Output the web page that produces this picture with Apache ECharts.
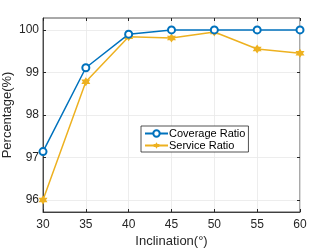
<!DOCTYPE html>
<html><head><meta charset="utf-8">
<script src="https://cdn.jsdelivr.net/npm/echarts@6/dist/echarts.min.js"></script>
<style>html,body{margin:0;padding:0;background:#fff}#c{width:332px;height:249px}</style>
</head><body><div id="c"></div>
<script>
const categories = [30, 35, 40, 45, 50, 55, 60];
const coverageRatio = [97.14, 99.11, 99.90, 100, 100, 100, 100];
const serviceRatio = [96.0, 98.78, 99.84, 99.81, 99.95, 99.55, 99.45];
const xTicks = [30, 35, 40, 45, 50, 55, 60];
const yTicks = [96, 97, 98, 99, 100];

const font = 'Liberation Sans, Arial, sans-serif';
const axisCol = '#262626';
const star = 'path://M0,-10 L2.9,-5 L8.66,-5 L5.8,0 L8.66,5 L2.9,5 L0,10 L-2.9,5 L-8.66,5 L-5.8,0 L-8.66,-5 L-2.9,-5 Z';
const chart = echarts.init(document.getElementById('c'));
const ymin = 95.72, ymax = 100.28;
chart.setOption({
  animation: false,
  grid: {left: 43, right: 32, top: 18, bottom: 37, show: true, borderColor: axisCol, borderWidth: 0.8, backgroundColor: '#fff', outerBoundsMode: 'none', containLabel: false},
  legend: {
    orient: 'vertical', left: 141, top: 126, padding: [2, 3, 1, 3], itemGap: 1,
    borderColor: axisCol, borderWidth: 0.8, backgroundColor: '#fff',
    itemWidth: 23, itemHeight: 8,
    textStyle: {fontFamily: font, fontSize: 11, color: '#000', padding: [0, 0, 0, -4]},
    data: ['Coverage Ratio', 'Service Ratio']
  },
  xAxis: [{
    type: 'value', min: 30, max: 60, interval: 5,
    name: 'Inclination(°)', nameLocation: 'middle', nameGap: 23, nameMoveOverlap: false,
    nameTextStyle: {fontFamily: font, fontSize: 13, color: axisCol},
    axisLine: {lineStyle: {color: axisCol, width: 0.8}},
    axisTick: {inside: true, length: 3, lineStyle: {color: axisCol}},
    axisLabel: {fontFamily: font, fontSize: 12, color: axisCol, margin: 7, customValues: xTicks},
    splitLine: {show: true, lineStyle: {color: '#e8e8e8', width: 0.8}}
  }, {
    type: 'value', min: 30, max: 60, interval: 5, position: 'top',
    axisLine: {show: false}, axisLabel: {show: false},
    axisTick: {inside: true, length: 3, lineStyle: {color: axisCol}}, splitLine: {show: false}
  }],
  yAxis: [{
    type: 'value', min: ymin, max: ymax,
    name: 'Percentage(%)', nameLocation: 'middle', nameGap: 29, nameMoveOverlap: false,
    nameTextStyle: {fontFamily: font, fontSize: 13, color: axisCol},
    axisLine: {show: true, lineStyle: {color: axisCol, width: 0.8}},
    axisTick: {inside: true, length: 3, customValues: yTicks, lineStyle: {color: axisCol}},
    axisLabel: {fontFamily: font, fontSize: 12, color: axisCol, margin: 4, customValues: yTicks},
    splitLine: {show: true, lineStyle: {color: '#e8e8e8', width: 0.8}}
  }, {
    type: 'value', min: ymin, max: ymax, position: 'right',
    axisLine: {show: false}, axisLabel: {show: false},
    axisTick: {show: true, inside: true, length: 3, customValues: yTicks, lineStyle: {color: axisCol}},
    splitLine: {show: false}
  }],
  series: [{
    name: 'Coverage Ratio', type: 'line',
    data: categories.map((c, i) => [c, coverageRatio[i]]),
    symbol: 'emptyCircle', symbolSize: 7,
    lineStyle: {color: '#0072BD', width: 1.5},
    itemStyle: {color: '#0072BD', borderWidth: 1.3},
    z: 3
  }, {
    name: 'Service Ratio', type: 'line',
    data: categories.map((c, i) => [c, serviceRatio[i]]),
    symbol: star, symbolSize: 9,
    lineStyle: {color: '#EDB120', width: 1.5},
    itemStyle: {color: '#EDB120'},
    z: 2
  }]
});
</script></body></html>
